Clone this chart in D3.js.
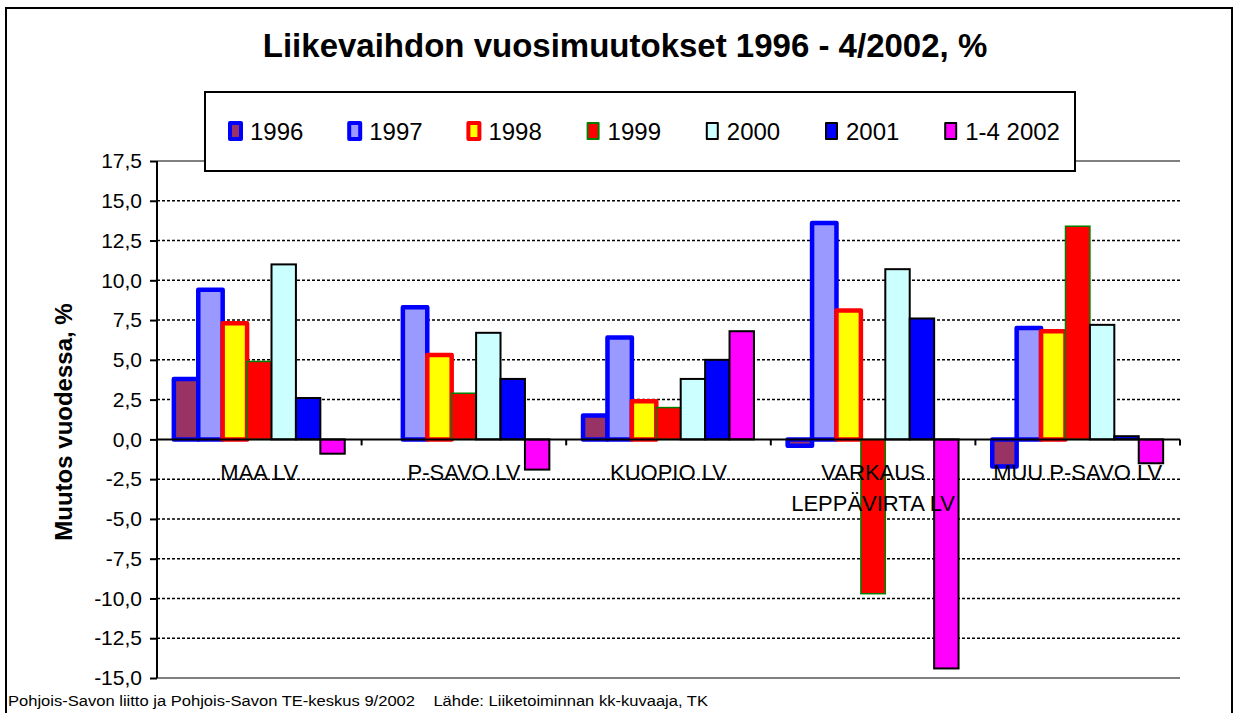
<!DOCTYPE html>
<html>
<head>
<meta charset="utf-8">
<script src="https://cdn.jsdelivr.net/npm/d3@7"></script>
<style>
  body { margin: 0; background: #fff; }
  text { font-family: "Liberation Sans", Arial, sans-serif; }
</style>
</head>
<body>
<div id="chart"></div>
<script>
// Liikevaihdon vuosimuutokset - grouped bar chart
var svgWidth = 1240;
var svgHeight = 713;

// plot area edges (px)
var margin = { top: 161, bottom: 35, left: 157, right: 60 };
var width = svgWidth - margin.left - margin.right;
var height = svgHeight - margin.top - margin.bottom;

// data
var categories = ["MAA LV", "P-SAVO LV", "KUOPIO LV", "VARKAUS\nLEPPÄVIRTA LV", "MUU P-SAVO LV"];
var seriesNames = ["1996", "1997", "1998", "1999", "2000", "2001", "1-4 2002"];
var v1996 = [3.8, null, 1.5, -0.4, -1.7];
var v1997 = [9.4, 8.3, 6.4, 13.6, 7.0];
var v1998 = [7.3, 5.3, 2.4, 8.1, 6.8];
var v1999 = [4.9, 2.9, 2.0, -9.7, 13.4];
var v2000 = [11.0, 6.7, 3.8, 10.7, 7.2];
var v2001 = [2.6, 3.8, 5.0, 7.6, 0.2];
var v2002 = [-0.9, -1.9, 6.8, -14.4, -1.5];
var seriesValues = [v1996, v1997, v1998, v1999, v2000, v2001, v2002];
var yTicks = [17.5, 15, 12.5, 10, 7.5, 5, 2.5, 0, -2.5, -5, -7.5, -10, -12.5, -15];

// bar styles per series
var fills = ["#993366", "#9999FF", "#FFFF00", "#FF0000", "#CCFFFF", "#0000FF", "#FF00FF"];
var strokes = ["#0000FF", "#0000FF", "#FF0000", "#008000", "#000000", "#000000", "#000000"];
var strokeW = [4.5, 4.5, 4.5, 1.5, 2, 2, 2];

var svg = d3.select("#chart")
  .append("svg")
  .attr("width", svgWidth)
  .attr("height", svgHeight);

// outer frame
svg.append("rect")
  .attr("x", 6).attr("y", 8)
  .attr("width", 1226).attr("height", 740)
  .attr("fill", "none")
  .attr("stroke", "#000")
  .attr("stroke-width", 2);

// title
svg.append("text")
  .attr("x", 625).attr("y", 57)
  .attr("text-anchor", "middle")
  .attr("font-size", 33)
  .attr("font-weight", "bold")
  .text("Liikevaihdon vuosimuutokset 1996 - 4/2002, %");

var chartGroup = svg.append("g")
  .attr("transform", `translate(${margin.left}, ${margin.top})`);

// scales
var x0 = d3.scaleBand()
  .domain(categories)
  .range([0, width])
  .padding(0);
var x1 = d3.scaleBand()
  .domain(seriesNames)
  .range([0, x0.bandwidth()])
  .paddingInner(0)
  .paddingOuter(0.69);
var y = d3.scaleLinear()
  .domain([-15, 17.5])
  .range([height, 0]);

// gridlines
chartGroup.append("g")
  .selectAll("line")
  .data(yTicks.filter(d => d !== 0 && d !== 17.5 && d !== -15))
  .enter()
  .append("line")
  .attr("x1", 0).attr("x2", width)
  .attr("y1", d => y(d)).attr("y2", d => y(d))
  .attr("stroke", "#000")
  .attr("stroke-width", 1.5)
  .attr("stroke-dasharray", "3,2");

// plot area top/bottom border
chartGroup.selectAll(".border")
  .data([17.5, -15])
  .enter()
  .append("line")
  .attr("class", "border")
  .attr("x1", 0).attr("x2", width)
  .attr("y1", d => y(d)).attr("y2", d => y(d))
  .attr("stroke", "#808080")
  .attr("stroke-width", 2);

// bars, series by series
seriesNames.forEach(function(name, si) {
  var rows = categories.map((c, ci) => ({ cat: c, val: seriesValues[si][ci] }))
    .filter(d => d.val !== null);
  chartGroup.append("g")
    .selectAll("rect")
    .data(rows)
    .enter()
    .append("rect")
    .attr("x", d => x0(d.cat) + x1(name))
    .attr("width", x1.bandwidth())
    .attr("y", d => y(Math.max(0, d.val)))
    .attr("height", d => Math.abs(y(d.val) - y(0)))
    .attr("fill", fills[si])
    .attr("stroke", strokes[si])
    .attr("stroke-width", strokeW[si])
    .attr("stroke-linejoin", si < 3 ? "round" : "miter");
});

// zero line with category ticks
chartGroup.append("line")
  .attr("x1", 0).attr("x2", width)
  .attr("y1", y(0)).attr("y2", y(0))
  .attr("stroke", "#000")
  .attr("stroke-width", 2);
chartGroup.append("g")
  .selectAll("line")
  .data(categories.slice(1).map(c => x0(c)).concat([width]))
  .enter()
  .append("line")
  .attr("x1", d => d).attr("x2", d => d)
  .attr("y1", y(0)).attr("y2", y(0) + 6)
  .attr("stroke", "#000")
  .attr("stroke-width", 2);

// category labels
var catLabels = chartGroup.append("g")
  .selectAll("text")
  .data(categories)
  .enter()
  .append("text")
  .attr("x", d => x0(d) + x0.bandwidth() / 2)
  .attr("y", y(0) + 41)
  .attr("text-anchor", "middle")
  .attr("font-size", 22);
catLabels.each(function(d) {
  var lines = d.split("\n");
  var t = d3.select(this);
  lines.forEach(function(l, i) {
    t.append("tspan")
      .attr("x", x0(d) + x0.bandwidth() / 2)
      .attr("dy", i === 0 ? 0 : 31)
      .text(l);
  });
});

// y axis
var leftAxis = d3.axisLeft(y)
  .tickValues(yTicks)
  .tickSize(7)
  .tickPadding(8)
  .tickFormat(d => d3.format(".1f")(d).replace(".", ",").replace("−", "-"));
var yAxis = chartGroup.append("g")
  .call(leftAxis);
yAxis.select(".domain").attr("stroke-width", 2).attr("d", `M0,0V${height}`);
yAxis.selectAll(".tick line").attr("stroke-width", 2);
yAxis.selectAll(".tick text")
  .attr("font-size", 21)
  .attr("font-family", "Liberation Sans, Arial, sans-serif")
  .attr("fill", "#000");

// y axis title
svg.append("text")
  .attr("transform", "translate(72, 422) rotate(-90)")
  .attr("text-anchor", "middle")
  .attr("font-size", 24)
  .attr("font-weight", "bold")
  .text("Muutos vuodessa, %");

// legend
var legend = svg.append("g");
legend.append("rect")
  .attr("x", 205).attr("y", 92)
  .attr("width", 870).attr("height", 79)
  .attr("fill", "#fff")
  .attr("stroke", "#000")
  .attr("stroke-width", 2);
var legendItems = legend.selectAll(".item")
  .data(seriesNames)
  .enter()
  .append("g")
  .attr("class", "item")
  .attr("transform", (d, i) => `translate(${230 + i * 119.2}, 131)`);
legendItems.append("rect")
  .attr("x", 0).attr("y", -8)
  .attr("width", 11).attr("height", 16)
  .attr("fill", (d, i) => fills[i])
  .attr("stroke", (d, i) => strokes[i])
  .attr("stroke-width", (d, i) => strokeW[i] > 2 ? 4 : 2)
  .attr("stroke-linejoin", "round");
legendItems.append("text")
  .attr("x", 20).attr("y", 9)
  .attr("font-size", 24)
  .text(d => d);

// footer
svg.append("text")
  .attr("x", 8).attr("y", 706)
  .attr("font-size", 14)
  .attr("textLength", 700)
  .attr("lengthAdjust", "spacingAndGlyphs")
  .text("Pohjois-Savon liitto ja Pohjois-Savon TE-keskus 9/2002    Lähde: Liiketoiminnan kk-kuvaaja, TK")
  .attr("xml:space", "preserve");
</script>
</body>
</html>
